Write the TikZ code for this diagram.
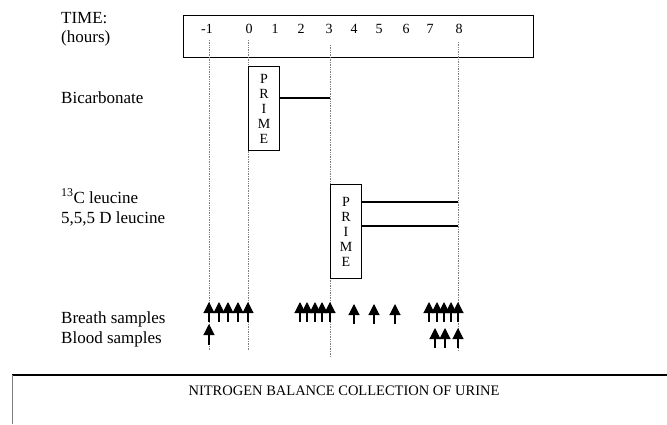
\documentclass[tikz,border=0pt]{standalone}
\usepackage{fontspec}
\setmainfont{Liberation Serif}
\usetikzlibrary{arrows.meta}
\begin{document}
\begin{tikzpicture}[x=1pt,y=-1pt,
 lab/.style={anchor=base west, inner sep=0, font=\fontsize{17}{17}\selectfont},
 num/.style={anchor=base, inner sep=0, font=\fontsize{14}{14}\selectfont},
 primebox/.style={draw, line width=1pt, minimum width=31pt, inner sep=0, anchor=north west, align=center, font=\fontsize{14}{15}\selectfont},
 guide/.style={densely dotted, gray, line width=0.7pt},
 up/.style={-{Triangle[length=11pt,width=11pt]}, line width=1.1pt},
 bar/.style={line width=1.1pt},
]
\useasboundingbox (0,0) rectangle (667,424);
% labels
\node[lab] (time) at (61,23) {TIME:};
\node[lab] (hours) at (61,42) {(hours)};
\node[lab] (bic) at (61,103) {Bicarbonate};
\node[lab] (leu1) at (61,203) {\textsuperscript{13}C leucine};
\node[lab] (leu2) at (61,223) {5,5,5 D leucine};
\node[lab] (breath) at (61,323) {Breath samples};
\node[lab] (blood) at (61,343) {Blood samples};
% time box
\node[draw, line width=1.4pt, minimum width=350pt, minimum height=42pt, inner sep=0, anchor=north west] (timebox) at (183,15) {};
\foreach \t/\x in {-1/207,0/249,1/275,2/301,3/329,4/354,5/379,6/406,7/430,8/459}
  \node[num] (n\t) at (\x,33) {\t};
% guides
\draw[guide] (209,40) coordinate (gm1a) -- (209,350) coordinate (gm1b);
\draw[guide] (248,40) coordinate (g0a) -- (248,350) coordinate (g0b);
\draw[guide] (330,45) coordinate (g3a) -- (330,357) coordinate (g3b);
\draw[guide] (458,42) coordinate (g8a) -- (458,350) coordinate (g8b);
% bicarbonate prime
\node[primebox, minimum height=84pt] (bprime) at (248,66) {P\\R\\I\\M\\E};
\coordinate (bend) at (330,98);
\draw[bar] (bprime.east |- bend) -- (bend);
% leucine prime
\node[primebox, minimum height=94pt] (lprime) at (330,184) {P\\R\\I\\M\\E};
\coordinate (lend1) at (458,202);
\coordinate (lend2) at (458,226);
\draw[bar] (lprime.east |- lend1) -- (lend1);
\draw[bar] (lprime.east |- lend2) -- (lend2);
% breath arrows
\foreach \x in {209,219,228,238,248,300,307,315,322,330,429,437,444,451,458}
  \draw[up] (\x,322) -- (\x,302);
\foreach \x in {354,374,395}
  \draw[up] (\x,324) -- (\x,304);
% blood arrows
\draw[up] (209,345) -- (209,324);
\foreach \x in {435,445,458}
  \draw[up] (\x,348) -- (\x,328);
% nitrogen box
\coordinate (nbr) at (667,375);
\coordinate (nbl) at (12,375);
\coordinate (nbb) at (12,424);
\draw[line width=1.3pt] (nbr) -- (nbl);
\draw[line width=1pt, gray] (nbl) -- (nbb);
\node[anchor=base, inner sep=0, font=\fontsize{14.5}{14.5}\selectfont] (nitro) at (344,395) {NITROGEN BALANCE COLLECTION OF URINE};
\end{tikzpicture}
\end{document}
